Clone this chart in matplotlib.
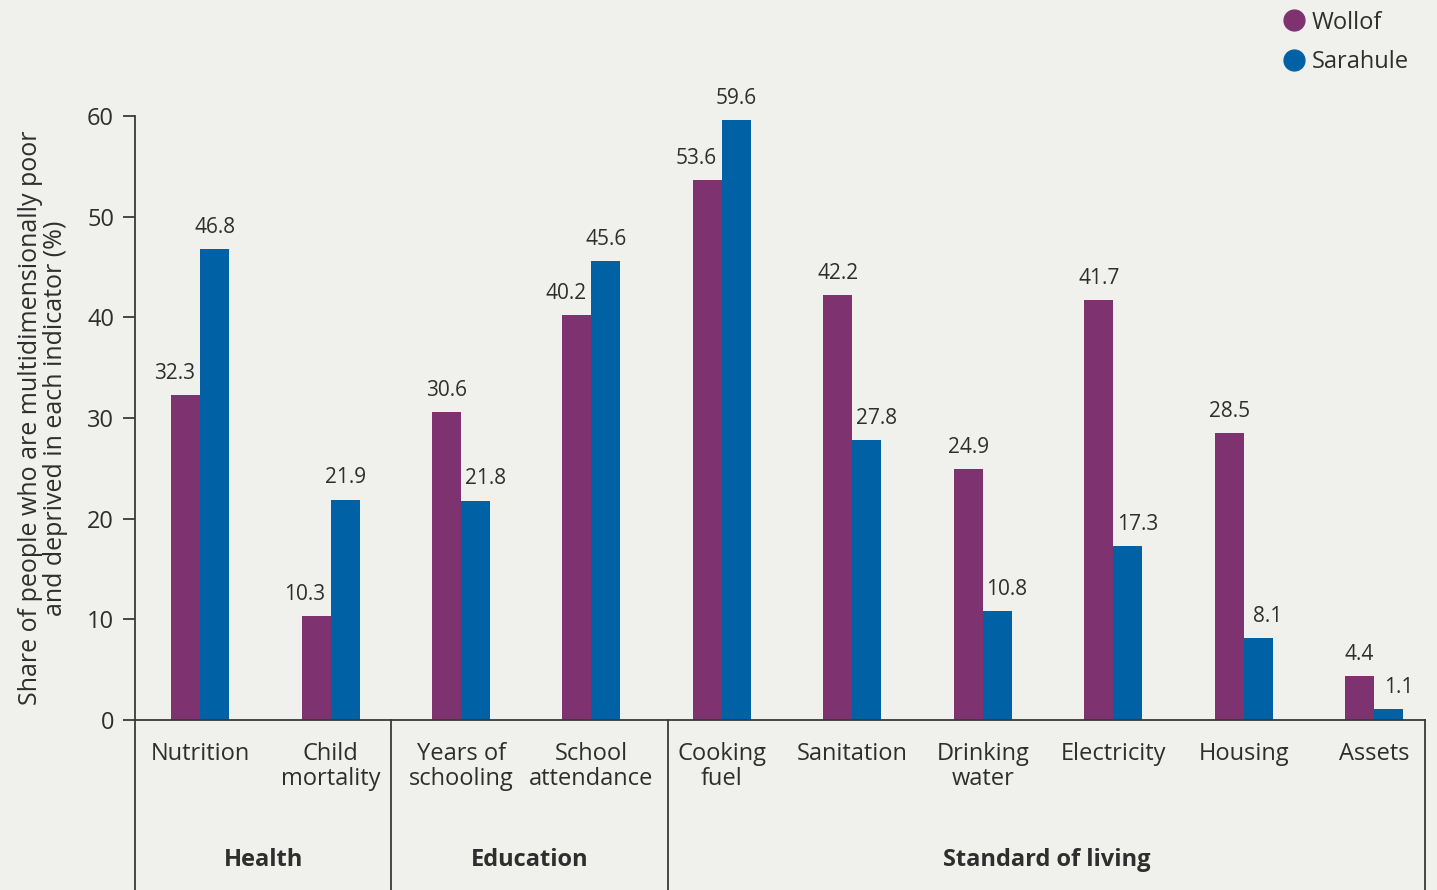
import matplotlib
matplotlib.use("Agg")
import matplotlib.pyplot as plt
import matplotlib.transforms as mtransforms
from matplotlib.lines import Line2D
import numpy as np

plt.rcParams['font.family'] = ['Open Sans', 'DejaVu Sans']

categories = ["Nutrition", "Child\nmortality", "Years of\nschooling", "School\nattendance",
              "Cooking\nfuel", "Sanitation", "Drinking\nwater", "Electricity", "Housing", "Assets"]
wollof = [32.3, 10.3, 30.6, 40.2, 53.6, 42.2, 24.9, 41.7, 28.5, 4.4]
sarahule = [46.8, 21.9, 21.8, 45.6, 59.6, 27.8, 10.8, 17.3, 8.1, 1.1]
groups = ["Health", "Education", "Standard of living"]
series_names = ["Wollof", "Sarahule"]
yticks = [0, 10, 20, 30, 40, 50, 60]

PURPLE = "#7f3270"
BLUE = "#0062a5"
BG = "#f0f0ec"
TXT = "#2e2e2e"
LINE = "#3a3a3a"

fig = plt.figure(figsize=(14.37, 8.90), dpi=100, facecolor=BG)
ax = fig.add_axes([0.0939, 0.191, 0.8977, 0.6787])
ax.set_facecolor(BG)

x = np.arange(len(categories))
w = 0.222
ax.bar(x - w / 2, wollof, w, color=PURPLE, zorder=2)
ax.bar(x + w / 2, sarahule, w, color=BLUE, zorder=2)

# value labels, nudged sideways when the neighbouring bar is taller
for i in range(len(categories)):
    dx1 = -8 if sarahule[i] > wollof[i] else 0
    dx2 = 7 if wollof[i] > sarahule[i] else 0
    ax.annotate(f"{wollof[i]:.1f}", (x[i] - w / 2, wollof[i]), xytext=(dx1, 8),
                textcoords="offset points", ha="center", va="bottom",
                fontsize=15, color=TXT)
    ax.annotate(f"{sarahule[i]:.1f}", (x[i] + w / 2, sarahule[i]), xytext=(dx2, 8),
                textcoords="offset points", ha="center", va="bottom",
                fontsize=15, color=TXT)

x_left, x_right = -0.5, 9.39
ax.set_xlim(x_left, x_right)
ax.set_ylim(0, 60)
ax.set_yticks(yticks)
ax.set_yticklabels([str(t) for t in yticks], fontsize=17, color=TXT)
ax.tick_params(axis="y", length=9, width=1.3, color=LINE, pad=6)
ax.set_xticks(x)
ax.set_xticklabels(categories, fontsize=17, color=TXT, linespacing=1.05)
ax.tick_params(axis="x", length=0, pad=16)

for s in ["top", "right"]:
    ax.spines[s].set_visible(False)
for s in ["left", "bottom"]:
    ax.spines[s].set_color(LINE)
    ax.spines[s].set_linewidth(1.3)

ax.set_ylabel("Share of people who are multidimensionally poor\nand deprived in each indicator (%)",
              fontsize=18, color=TXT, labelpad=14, linespacing=1.0)

# group brackets below the axis
bounds = [x_left, 1.465, 3.59, x_right]
trans = mtransforms.blended_transform_factory(ax.transData, ax.transAxes)
for bx in bounds:
    ax.plot([bx, bx], [0, -0.29], transform=trans, color=LINE, lw=1.3,
            clip_on=False, zorder=3)
for g, lo, hi in zip(groups, bounds[:-1], bounds[1:]):
    ax.text((lo + hi) / 2, -0.232, g, transform=trans, ha="center", va="center",
            fontsize=17, fontweight="bold", color=TXT)

handles = [Line2D([], [], marker="o", linestyle="", markersize=15, color=c)
           for c in (PURPLE, BLUE)]
fig.legend(handles, series_names, loc="upper right", bbox_to_anchor=(0.995, 1.012),
           frameon=False, fontsize=17, handletextpad=0.15, labelspacing=0.65,
           labelcolor=TXT, handlelength=1.2)

fig.savefig("out.png", dpi=100, facecolor=BG)
